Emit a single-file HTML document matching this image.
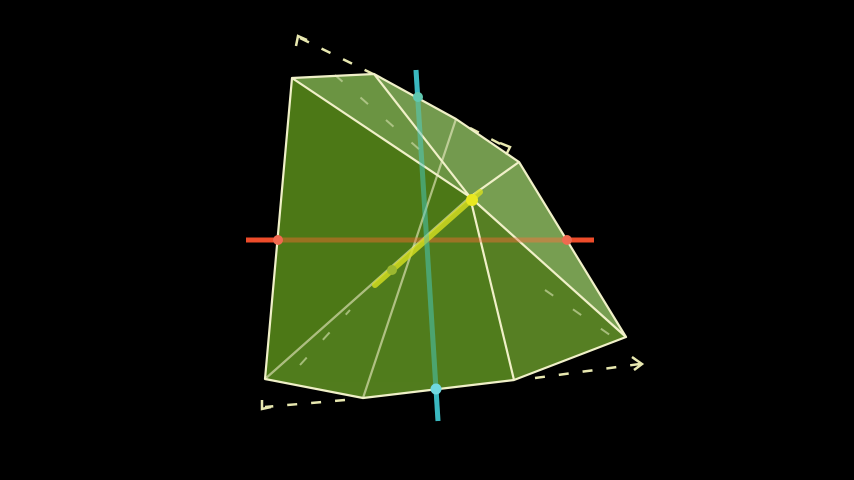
<!DOCTYPE html>
<html><head><meta charset="utf-8"><style>html,body{margin:0;background:#000;width:854px;height:480px;overflow:hidden}</style></head>
<body>
<svg width="854" height="480" viewBox="0 0 854 480">
<rect width="854" height="480" fill="#000"/>
<g stroke="#e8e8b0" stroke-width="2.5" fill="none" stroke-dasharray="10 14">
<line x1="300" y1="38" x2="375" y2="75"/>
<line x1="470" y1="128" x2="508" y2="148"/>
<line x1="345" y1="400" x2="265" y2="407"/>
<line x1="535" y1="378" x2="640" y2="364"/>
</g>
<g stroke="#e8e8b0" stroke-width="2.5" fill="none">
<polyline points="296,46 298,36 307,40"/>
<polyline points="500,143 510,147 506,155"/>
<polyline points="262,400 262,409 271,407"/>
<polyline points="632,357 642,364 634,370"/>
</g>
<line x1="416" y1="70" x2="438" y2="421" stroke="#3ab8c0" stroke-width="5"/>
<line x1="246" y1="240" x2="594" y2="240" stroke="#f04a2a" stroke-width="5"/>
<g stroke="none" opacity="0.85">
<polygon points="292,78 470,197 265,379" fill="#5a8e1a"/>
<polygon points="292,78 374,74 470,197" fill="#7eae4e"/>
<polygon points="374,74 456,119 519,162 470,197" fill="#88b65c"/>
<polygon points="519,162 626,337 470,197" fill="#8cba60"/>
<polygon points="470,197 626,337 514,380" fill="#65962a"/>
<polygon points="470,197 514,380 363,398 265,379" fill="#5f9222"/>
</g>
<g stroke="#c8d8a0" stroke-width="2" stroke-dasharray="10 24" opacity="0.7">
<line x1="335" y1="75" x2="420" y2="150"/>
<line x1="545" y1="290" x2="610" y2="335"/>
<line x1="300" y1="365" x2="350" y2="310"/>
</g>
<g stroke="#f0f0c8" stroke-width="2.2" fill="none" stroke-linejoin="round">
<polygon points="292,78 374,74 456,119 519,162 626,337 514,380 363,398 265,379"/>
<line x1="292" y1="78" x2="470" y2="197"/>
<line x1="374" y1="74" x2="470" y2="197"/>
<line x1="519" y1="162" x2="470" y2="197"/>
<line x1="626" y1="337" x2="470" y2="197"/>
<line x1="514" y1="380" x2="470" y2="197"/>
<line x1="265" y1="379" x2="470" y2="197" stroke-opacity="0.6"/>
<line x1="456" y1="119" x2="363" y2="398" stroke-opacity="0.6"/>
</g>
<line x1="246" y1="240" x2="594" y2="240" stroke="#e8502a" stroke-width="5" opacity="0.35"/>
<circle cx="278" cy="240" r="5" fill="#f06a50"/>
<circle cx="567" cy="240" r="5" fill="#f06a50"/>
<line x1="375" y1="285" x2="480" y2="192" stroke="#d8e020" stroke-width="6" stroke-linecap="round" opacity="0.8"/>
<circle cx="472" cy="200" r="6" fill="#e8e820"/>
<circle cx="392" cy="270" r="5" fill="#9cb830"/>
<line x1="416" y1="70" x2="438" y2="421" stroke="#3ab8c0" stroke-width="5" opacity="0.4"/>
<circle cx="418" cy="97" r="5" fill="#60c8b0"/>
<circle cx="436" cy="389" r="5.5" fill="#70d8e0"/>
</svg>
</body></html>
